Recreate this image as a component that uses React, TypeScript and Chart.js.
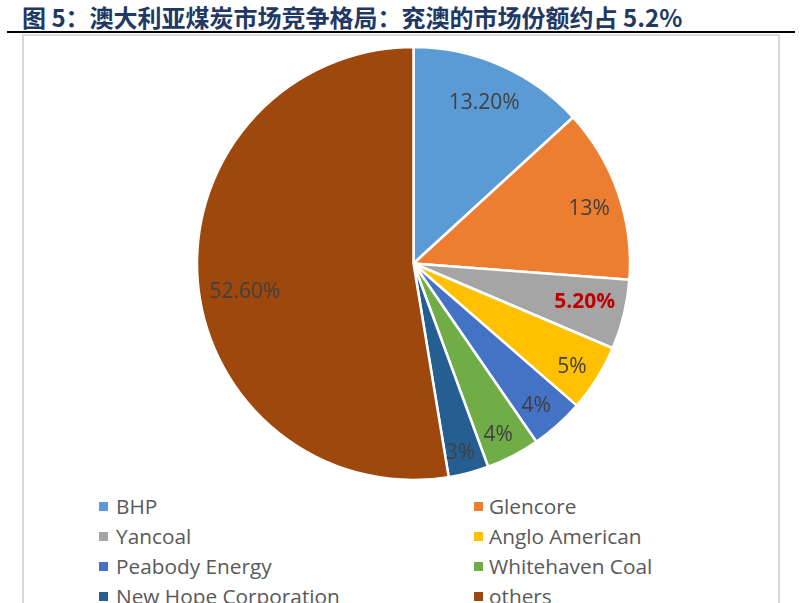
import { useEffect, useRef } from "react";
import Chart from "chart.js/auto";

const companies = [
  "BHP",
  "Glencore",
  "Yancoal",
  "Anglo American",
  "Peabody Energy",
  "Whitehaven Coal",
  "New Hope Corporation",
  "others",
];
const shares = [13.2, 13, 5.2, 5, 4, 4, 3, 52.6];
const shareLabels = ["13.20%", "13%", "5.20%", "5%", "4%", "4%", "3%", "52.60%"];
const colors = [
  "#5B9BD5",
  "#ED7D31",
  "#A5A5A5",
  "#FFC000",
  "#4472C4",
  "#70AD47",
  "#255E91",
  "#9E480E",
];
const highlightIndex = 2;

const FONT = "'Open Sans', 'Noto Sans', sans-serif";

// label placement inside the slices (fraction of radius, angle nudge in rad)
const labelRadius = [0.81, 0.85, 0.81, 0.875, 0.87, 0.885, 0.9, 0.79];
const labelNudge = [0, 0.03, -0.02, 0.02, 0.02, 0.02, 0.015, -0.085];

const sliceLabels = {
  id: "sliceLabels",
  afterDatasetsDraw(chart: Chart) {
    const ctx = chart.ctx;
    const meta = chart.getDatasetMeta(0);
    ctx.save();
    ctx.textAlign = "center";
    ctx.textBaseline = "middle";
    meta.data.forEach((arc: any, i: number) => {
      const { x, y, startAngle, endAngle, outerRadius } = arc.getProps(
        ["x", "y", "startAngle", "endAngle", "outerRadius"],
        true
      );
      const mid = (startAngle + endAngle) / 2 + labelNudge[i];
      const r = outerRadius * labelRadius[i];
      const hi = i === highlightIndex;
      ctx.font = `${hi ? "bold " : ""}21px ${FONT}`;
      ctx.fillStyle = hi ? "#C00000" : "#404040";
      ctx.fillText(shareLabels[i], x + Math.cos(mid) * r, y + Math.sin(mid) * r);
    });
    ctx.restore();
  },
};

const App = () => {
  const canvasRef = useRef<HTMLCanvasElement>(null);

  useEffect(() => {
    if (!canvasRef.current) return;
    const chart = new Chart(canvasRef.current, {
      type: "pie",
      data: {
        labels: companies,
        datasets: [
          {
            data: shares,
            backgroundColor: colors,
            borderColor: "#ffffff",
            borderWidth: 2.5,
          },
        ],
      },
      options: {
        animation: false,
        responsive: false,
        radius: 216.5,
        layout: { padding: 0 },
        plugins: {
          legend: { display: false },
          tooltip: { enabled: false },
        },
      },
      plugins: [sliceLabels],
    });
    return () => chart.destroy();
  }, []);

  return (
    <div
      style={{
        position: "absolute",
        left: 0,
        top: 0,
        width: 802,
        height: 603,
        overflow: "hidden",
        background: "#fff",
      }}
    >
      <div
        style={{
          position: "absolute",
          left: 22,
          top: -1,
          fontFamily: "'Noto Sans CJK SC', sans-serif",
          fontWeight: "bold",
          fontSize: 24,
          color: "#1F3864",
          whiteSpace: "nowrap",
        }}
      >
        图 5：澳大利亚煤炭市场竞争格局：兖澳的市场份额约占 5.2%
      </div>
      <div
        style={{
          position: "absolute",
          left: 7,
          top: 31,
          width: 788,
          height: 2,
          background: "#000",
        }}
      />
      <div
        style={{
          position: "absolute",
          left: 22,
          top: 34,
          width: 754,
          height: 600,
          border: "2px solid #D9D9D9",
        }}
      />
      <canvas
        ref={canvasRef}
        width={501}
        height={449}
        style={{ position: "absolute", left: 163, top: 39 }}
      />
      {companies.map((name, i) => {
        const col = i % 2;
        const row = Math.floor(i / 2);
        return (
          <div
            key={name}
            style={{
              position: "absolute",
              left: col === 0 ? 99 : 474,
              top: 491 + row * 30,
              height: 30,
              display: "flex",
              alignItems: "center",
              fontFamily: FONT,
              fontSize: 20.8,
              color: "#595959",
              whiteSpace: "nowrap",
            }}
          >
            <span
              style={{
                display: "inline-block",
                width: 9,
                height: 9,
                background: colors[i],
                marginRight: col === 0 ? 8 : 6,
              }}
            />
            {name}
          </div>
        );
      })}
    </div>
  );
};

export default App;
